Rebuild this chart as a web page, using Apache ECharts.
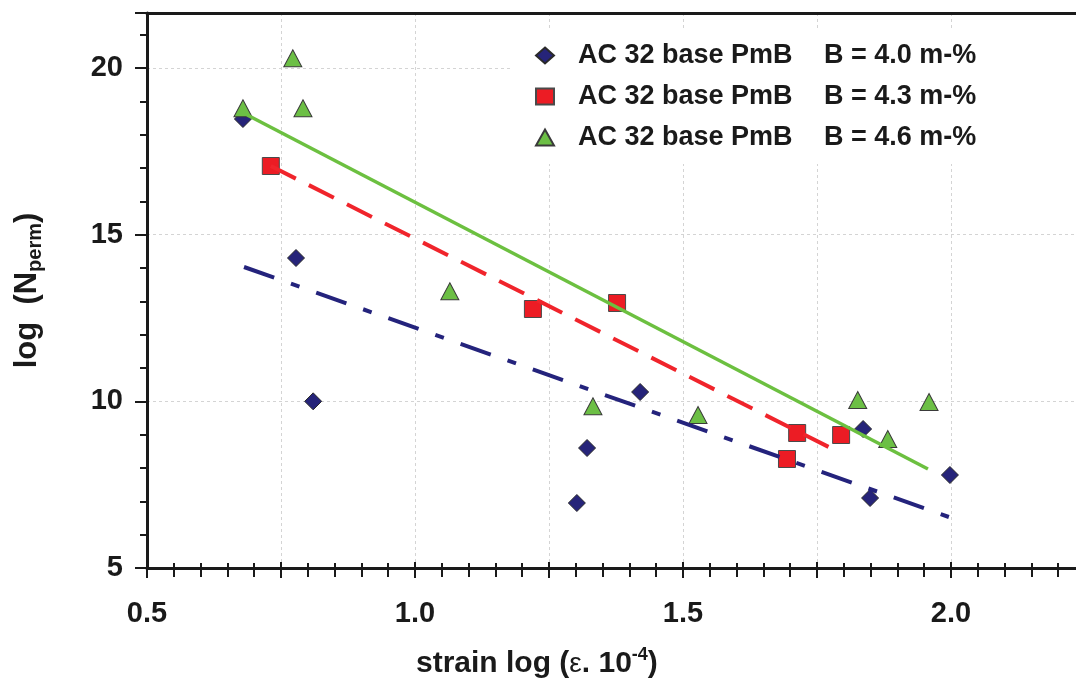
<!DOCTYPE html>
<html>
<head>
<meta charset="utf-8">
<script src="https://cdn.jsdelivr.net/npm/echarts@6/dist/echarts.min.js"></script>
<style>html,body{margin:0;padding:0;background:#fff}#c{width:1076px;height:683px}</style>
</head>
<body>
<div id="c"></div>
<script>
// ---- data ----
const seriesNames = ['AC 32 base PmB  B = 4.0 m-%', 'AC 32 base PmB  B = 4.3 m-%', 'AC 32 base PmB  B = 4.6 m-%'];
const legendLeft = ['AC 32 base PmB', 'AC 32 base PmB', 'AC 32 base PmB'];
const legendRight = ['B = 4.0 m-%', 'B = 4.3 m-%', 'B = 4.6 m-%'];

const b40X = [0.679, 0.778, 0.81, 1.302, 1.321, 1.42, 1.836, 1.849, 1.998];
const b40Y = [18.47, 14.3, 10.0, 6.95, 8.6, 10.28, 9.17, 7.1, 7.79];

const b43X = [0.731, 1.22, 1.377, 1.694, 1.713, 1.795];
const b43Y = [17.06, 12.77, 12.95, 8.27, 9.05, 8.99];

const b46X = [0.679, 0.772, 0.791, 1.065, 1.332, 1.528, 1.826, 1.882, 1.959];
const b46Y = [18.79, 20.29, 18.79, 13.3, 9.85, 9.59, 10.04, 8.87, 9.98];

// trend line end points
const fit40X = [0.681, 1.996];
const fit40Y = [14.03, 6.53];
const fit43X = [0.731, 1.772];
const fit43Y = [17.06, 8.63];
const fit46X = [0.687, 1.957];
const fit46Y = [18.59, 7.97];

const xTickLabels = ['0.5', '1.0', '1.5', '2.0'];
const yTickLabels = ['5', '10', '15', '20'];

// ---- chart ----
const zip = (a, b) => a.map((v, i) => [v, b[i]]);
const FONT = '"Liberation Sans", Arial, sans-serif';
const INK = '#1a1a1a';

const chart = echarts.init(document.getElementById('c'), null, {renderer: 'canvas'});

const xBase = {type: 'value', min: 0.5, max: 2.25, interval: 0.25, gridIndex: 0};
const option = {
  backgroundColor: '#fff',
  animation: false,
  grid: {left: 147, right: -9, top: 13, bottom: 115, outerBoundsMode: 'none', containLabel: false},
  title: {
    left: 411, top: 641,
    text: '{a|strain log }{a|(}{e|ε}{a|. 10}{s|-4}{a|)}',
    textStyle: {
      rich: {
        a: {fontFamily: FONT, fontWeight: 'bold', fontSize: 30, color: INK, lineHeight: 36},
        e: {fontFamily: FONT, fontWeight: 'normal', fontSize: 28, color: INK, lineHeight: 36},
        s: {fontFamily: FONT, fontWeight: 'bold', fontSize: 18, color: INK, lineHeight: 22, verticalAlign: 'top'}
      }
    }
  },
  legend: {
    orient: 'vertical',
    left: 513, top: 30,
    padding: [12, 110, 13, 22],
    backgroundColor: '#fff',
    itemWidth: 18, itemHeight: 16,
    itemGap: 14,
    data: seriesNames,
    formatter: function (name) {
      const i = seriesNames.indexOf(name);
      return '{a|' + legendLeft[i] + '}{b|' + legendRight[i] + '}';
    },
    textStyle: {
      rich: {
        a: {fontFamily: FONT, fontWeight: 'bold', fontSize: 27, color: INK, width: 246, padding: [0, 0, 0, 19], lineHeight: 30},
        b: {fontFamily: FONT, fontWeight: 'bold', fontSize: 27, color: INK, lineHeight: 30}
      }
    }
  },
  xAxis: [
    Object.assign({}, xBase, {
      position: 'bottom',
      axisLine: {show: true, lineStyle: {color: INK, width: 3}},
      axisTick: {show: true, length: 10, lineStyle: {color: INK, width: 2}},
      minorTick: {show: true, splitNumber: 5, length: 9, lineStyle: {color: INK, width: 2}},
      axisLabel: {
        show: true, margin: 31, color: INK, fontFamily: FONT, fontWeight: 'bold', fontSize: 29,
        formatter: function (v) {
          const s = v.toFixed(1);
          return xTickLabels.indexOf(s) >= 0 && Math.abs(v * 2 - Math.round(v * 2)) < 1e-6 ? s : '';
        }
      },
      splitLine: {show: true, lineStyle: {color: '#d4d4d4', width: 1, type: [3, 3]}}
    }),
    Object.assign({}, xBase, {
      position: 'bottom',
      axisLine: {show: false},
      axisTick: {show: true, inside: true, length: 6, lineStyle: {color: INK, width: 2}},
      minorTick: {show: true, splitNumber: 5, length: 5, lineStyle: {color: INK, width: 2}},
      axisLabel: {show: false},
      splitLine: {show: false}
    }),
    Object.assign({}, xBase, {
      position: 'top',
      axisLine: {show: true, lineStyle: {color: INK, width: 3}},
      axisTick: {show: false},
      axisLabel: {show: false},
      splitLine: {show: false}
    })
  ],
  yAxis: [
    {
      type: 'value', min: 5, max: 21.65, interval: 5, position: 'left',
      axisLine: {show: true, lineStyle: {color: INK, width: 3}},
      axisTick: {show: true, length: 12, lineStyle: {color: INK, width: 2}},
      axisLabel: {
        show: true, margin: 24, color: INK, fontFamily: FONT, fontWeight: 'bold', fontSize: 29,
        formatter: function (v) {
          const s = String(Math.round(v));
          return Math.abs(v - Math.round(v)) < 1e-6 && yTickLabels.indexOf(s) >= 0 ? s : '';
        }
      },
      splitLine: {show: true, lineStyle: {color: '#d4d4d4', width: 1, type: [3, 3]}},
      name: '{a|log  (N}{b|perm}{a|)}',
      nameLocation: 'middle',
      nameGap: 102,
      nameRotate: 90,
      nameTextStyle: {
        rich: {
          a: {fontFamily: FONT, fontWeight: 'bold', fontSize: 31, color: INK, lineHeight: 36},
          b: {fontFamily: FONT, fontWeight: 'bold', fontSize: 20, color: INK, lineHeight: 22, verticalAlign: 'bottom'}
        }
      }
    },
    {
      type: 'value', min: 5, max: 21.65, interval: 1, position: 'left',
      axisLine: {show: false},
      axisTick: {show: true, length: 7, lineStyle: {color: INK, width: 2}},
      axisLabel: {show: false},
      splitLine: {show: false}
    }
  ],
  series: [
    {
      name: seriesNames[0], type: 'scatter', xAxisIndex: 0, yAxisIndex: 0, z: 3,
      symbol: 'diamond', symbolSize: 17,
      itemStyle: {color: '#262479', borderColor: '#2a2a2a', borderWidth: 1, opacity: 1},
      data: zip(b40X, b40Y)
    },
    {
      name: seriesNames[1], type: 'scatter', xAxisIndex: 0, yAxisIndex: 0, z: 3,
      symbol: 'rect', symbolSize: 17,
      itemStyle: {color: '#ec1c24', borderColor: '#4a4a4a', borderWidth: 1, opacity: 1},
      data: zip(b43X, b43Y)
    },
    {
      name: seriesNames[2], type: 'scatter', xAxisIndex: 0, yAxisIndex: 0, z: 3,
      symbol: 'triangle', symbolSize: [18, 17],
      itemStyle: {color: '#6cbf45', borderColor: '#3a3a3a', borderWidth: 1, opacity: 1},
      data: zip(b46X, b46Y)
    },
    {
      name: 'fit 4.0', type: 'line', xAxisIndex: 0, yAxisIndex: 0, z: 4,
      showSymbol: false, symbol: 'none', silent: true,
      lineStyle: {color: '#24237c', width: 4, type: [32, 17.8, 9, 17.8]},
      data: zip(fit40X, fit40Y)
    },
    {
      name: 'fit 4.3', type: 'line', xAxisIndex: 0, yAxisIndex: 0, z: 4,
      showSymbol: false, symbol: 'none', silent: true,
      lineStyle: {color: '#f0242b', width: 4, type: [28, 14.6]},
      data: zip(fit43X, fit43Y)
    },
    {
      name: 'fit 4.6', type: 'line', xAxisIndex: 0, yAxisIndex: 0, z: 4,
      showSymbol: false, symbol: 'none', silent: true,
      lineStyle: {color: '#6cc040', width: 3.5},
      data: zip(fit46X, fit46Y)
    }
  ]
};
chart.setOption(option);
</script>
</body>
</html>
